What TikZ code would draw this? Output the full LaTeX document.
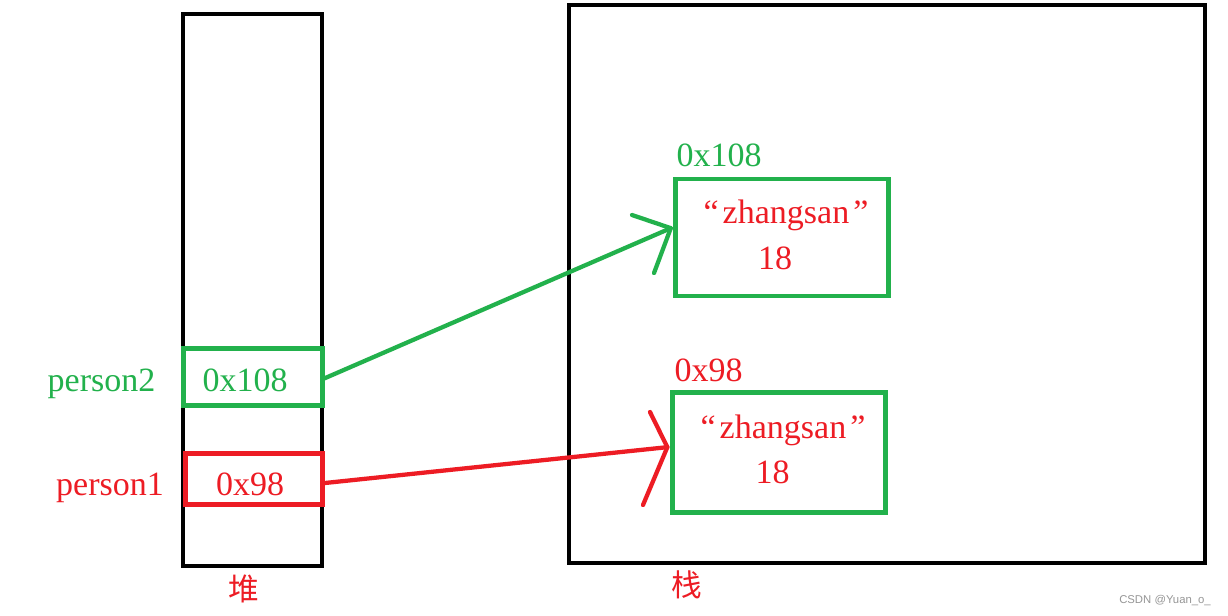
\documentclass[tikz,border=0pt]{standalone}
\usepackage{fontspec}
\setmainfont{Liberation Serif}
\newfontfamily\cjk{Noto Sans CJK SC}
\newfontfamily\wmfont{Liberation Sans}
\definecolor{pgreen}{RGB}{34,177,76}
\definecolor{pred}{RGB}{237,28,36}
\definecolor{wmgray}{RGB}{150,150,150}
\begin{document}
\begin{tikzpicture}[x=0.75pt,y=-0.75pt,
  box/.style={draw,line width=3.4pt,inner sep=0pt},
  txt/.style={anchor=base,inner sep=0pt,font=\fontsize{25.5}{30}\selectfont},
  han/.style={inner sep=0pt,text=pred,font=\cjk\fontsize{23}{26}\selectfont},
  ptr/.style={line width=3.2pt,line cap=round,line join=round}]
\useasboundingbox[fill=white] (0,0) rectangle (1228,616);
% heap and stack
\node[box,black,minimum width=104.25pt,minimum height=414pt] (heap) at (252.5,290) {};
\node[box,black,minimum width=477pt,minimum height=418.5pt] (stack) at (887,284) {};
% reference slots
\node[box,pgreen,minimum width=103.9pt,minimum height=42.4pt] (p2) at (253,377) {};
\node[box,pred,minimum width=103.1pt,minimum height=38.25pt] (p1) at (254,479) {};
% objects
\node[box,pgreen,minimum width=159.4pt,minimum height=87.75pt] (obj1) at (782,237.5) {};
\node[box,pgreen,minimum width=160.1pt,minimum height=90pt] (obj2) at (779,452.5) {};
% texts
\node[txt,text=pgreen] (t2) at (245,392) {0x108};
\node[txt,text=pred] (t1) at (250,495) {0x98};
\node[txt,text=pgreen] (n2) at (101.5,392) {person2};
\node[txt,text=pred] (n1) at (110,495) {person1};
\node[txt,text=pgreen] (a1) at (719,166.5) {0x108};
\node[txt,text=pred] (s1) at (786,223.3) {“\kern3pt zhangsan\kern3pt”};
\node[txt,text=pred] (g1) at (775,270) {18};
\node[txt,text=pred] (a2) at (708.7,381.7) {0x98};
\node[txt,text=pred] (s2) at (783,438.3) {“\kern3pt zhangsan\kern3pt”};
\node[txt,text=pred] (g2) at (772.5,483.3) {18};
\node[han] (heapl) at (243.5,589) {堆};
\node[han] (stackl) at (687,584.5) {栈};
\node[inner sep=0pt,text=wmgray,font=\wmfont\fontsize{8.5}{10}\selectfont] (wm) at (1165,601) {CSDN @Yuan\_o\_};
% arrows
\coordinate (gtip) at ([xshift=-2pt,yshift=7pt]obj1.west);
\coordinate (gh1) at (632,215);
\coordinate (gh2) at (654,273);
\draw[ptr,pgreen] ([yshift=-1pt]p2.east) -- (gtip);
\draw[ptr,pgreen] (gh1) -- (gtip) -- (gh2);
\coordinate (rtip) at ([xshift=-2pt,yshift=4pt]obj2.west);
\coordinate (rh1) at (650,412);
\coordinate (rh2) at (643,505);
\draw[ptr,pred] ([yshift=-3pt]p1.east) -- (rtip);
\draw[ptr,pred] (rh1) -- (rtip) -- (rh2);
\end{tikzpicture}
\end{document}
